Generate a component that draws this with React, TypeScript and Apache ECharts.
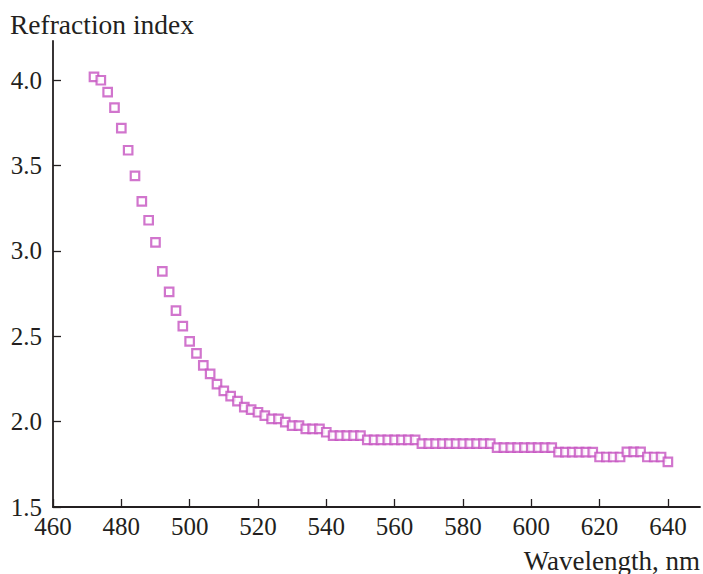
import React, { useEffect, useRef } from "react";
import * as echarts from "echarts";

// Wavelength (nm) and measured refraction index
const wavelengths: number[] = [
  472, 474, 476, 478, 480, 482, 484, 486, 488, 490,
  492, 494, 496, 498, 500, 502, 504, 506, 508, 510,
  512, 514, 516, 518, 520, 522, 524, 526, 528, 530,
  532, 534, 536, 538, 540, 542, 544, 546, 548, 550,
  552, 554, 556, 558, 560, 562, 564, 566, 568, 570,
  572, 574, 576, 578, 580, 582, 584, 586, 588, 590,
  592, 594, 596, 598, 600, 602, 604, 606, 608, 610,
  612, 614, 616, 618, 620, 622, 624, 626, 628, 630,
  632, 634, 636, 638, 640,
];

const refractionIndex: number[] = [
  4.02, 4.0, 3.93, 3.84, 3.72, 3.59, 3.44, 3.29, 3.18, 3.05,
  2.88, 2.76, 2.65, 2.56, 2.47, 2.4, 2.33, 2.28, 2.22, 2.18,
  2.15, 2.12, 2.085, 2.07, 2.055, 2.035, 2.016, 2.016, 1.997, 1.977,
  1.977, 1.958, 1.958, 1.958, 1.938, 1.918, 1.918, 1.918, 1.918, 1.918,
  1.893, 1.893, 1.893, 1.893, 1.893, 1.893, 1.893, 1.893, 1.871, 1.871,
  1.871, 1.871, 1.871, 1.871, 1.871, 1.871, 1.871, 1.871, 1.871, 1.848,
  1.848, 1.848, 1.848, 1.848, 1.848, 1.848, 1.848, 1.848, 1.821, 1.821,
  1.821, 1.821, 1.821, 1.821, 1.793, 1.793, 1.793, 1.793, 1.823, 1.823,
  1.823, 1.793, 1.793, 1.793, 1.764,
];

const xTicks: number[] = [460, 480, 500, 520, 540, 560, 580, 600, 620, 640];
const yTicks: number[] = [1.5, 2.0, 2.5, 3.0, 3.5, 4.0];

const FONT = "'Liberation Serif', 'Times New Roman', serif";
const TEXT_COLOR = "#231f20";
const AXIS_COLOR = "#231f20";
const MARKER_COLOR = "#c552c0";

export default function App() {
  const ref = useRef<HTMLDivElement>(null);

  useEffect(() => {
    if (!ref.current) return;
    const chart = echarts.init(ref.current, null, { renderer: "svg" });
    const points = wavelengths.map((w, i) => [w, refractionIndex[i]]);

    chart.setOption({
      animation: false,
      backgroundColor: "#ffffff",
      grid: { left: 53, right: 3, top: 41, bottom: 67, containLabel: false },
      xAxis: {
        type: "value",
        min: 460,
        max: 649.4,
        splitLine: { show: false },
        axisLine: { show: true, onZero: false, lineStyle: { color: AXIS_COLOR, width: 1.8 } },
        axisTick: {
          show: true,
          inside: true,
          length: 8,
          customValues: xTicks,
          lineStyle: { color: AXIS_COLOR, width: 1.3 },
        },
        axisLabel: {
          customValues: xTicks,
          margin: 7,
          color: TEXT_COLOR,
          fontFamily: FONT,
          fontSize: 25,
        },
      },
      yAxis: {
        type: "value",
        min: 1.5,
        max: 4.23,
        splitLine: { show: false },
        axisLine: { show: true, onZero: false, lineStyle: { color: AXIS_COLOR, width: 1.8 } },
        axisTick: {
          show: true,
          inside: true,
          length: 8,
          customValues: yTicks,
          lineStyle: { color: AXIS_COLOR, width: 1.3 },
        },
        axisLabel: {
          customValues: yTicks,
          margin: 11,
          color: TEXT_COLOR,
          fontFamily: FONT,
          fontSize: 25,
          formatter: (v: number) => v.toFixed(1),
        },
      },
      graphic: [
        {
          type: "text",
          x: 10,
          y: 10,
          style: {
            text: "Refraction index",
            fill: TEXT_COLOR,
            font: `27.5px ${FONT}`,
            align: "left",
            verticalAlign: "top",
          },
        },
        {
          type: "text",
          x: 700,
          y: 547,
          style: {
            text: "Wavelength, nm",
            fill: TEXT_COLOR,
            font: `27px ${FONT}`,
            align: "right",
            verticalAlign: "top",
          },
        },
      ],
      series: [
        {
          type: "scatter",
          data: points,
          symbol: "rect",
          symbolSize: 8.5,
          itemStyle: {
            color: "#ffffff",
            borderColor: MARKER_COLOR,
            borderWidth: 2.2,
          },
        },
      ],
    });

    return () => chart.dispose();
  }, []);

  return (
    <div
      ref={ref}
      style={{ position: "fixed", left: 0, top: 0, width: 703, height: 574 }}
    />
  );
}
